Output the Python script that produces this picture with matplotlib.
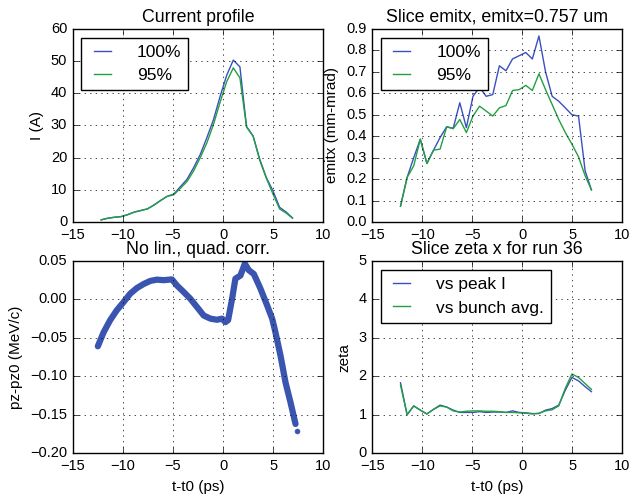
import numpy as np
import matplotlib
matplotlib.use("Agg")
import matplotlib.pyplot as plt

# ============ data ============

t = [-12.17, -11.51, -10.85, -10.19, -9.53, -8.87, -8.21, -7.55, -6.90, -6.24,
     -5.58, -4.92, -4.26, -3.60, -2.94, -2.28, -1.62, -0.96, -0.30, 0.36,
     1.02, 1.68, 2.34, 3.00, 3.66, 4.32, 4.98, 5.64, 6.30, 6.93]

cur_100 = [0.7, 1.2, 1.5, 1.7, 2.3, 3.1, 3.6, 4.1, 5.3, 6.7,
           8.0, 8.7, 11.0, 13.3, 16.9, 21.0, 26.2, 31.8, 39.0, 45.6,
           50.3, 48.2, 29.7, 26.7, 19.5, 13.8, 9.7, 4.6, 3.1, 1.3]
cur_95 = [0.7, 1.2, 1.5, 1.7, 2.3, 3.1, 3.6, 4.1, 5.3, 6.7,
          8.0, 8.5, 10.5, 12.6, 15.9, 20.0, 24.6, 30.3, 37.2, 43.6,
          47.9, 44.8, 29.5, 26.7, 19.2, 13.6, 8.7, 4.1, 2.8, 1.2]

emit_100 = [0.074, 0.208, 0.300, 0.386, 0.273, 0.335, 0.394, 0.444, 0.437, 0.556,
            0.440, 0.586, 0.628, 0.586, 0.594, 0.728, 0.705, 0.760, 0.775, 0.790,
            0.760, 0.867, 0.700, 0.586, 0.563, 0.532, 0.500, 0.494, 0.239, 0.150]
emit_95 = [0.074, 0.208, 0.262, 0.386, 0.273, 0.335, 0.340, 0.444, 0.435, 0.478,
           0.417, 0.494, 0.540, 0.517, 0.494, 0.532, 0.543, 0.613, 0.617, 0.637,
           0.613, 0.691, 0.617, 0.548, 0.478, 0.417, 0.363, 0.304, 0.216, 0.150]

zeta_peak = [1.83, 1.00, 1.23, 1.12, 1.02, 1.14, 1.25, 1.20, 1.12, 1.06,
             1.06, 1.06, 1.08, 1.06, 1.07, 1.07, 1.06, 1.10, 1.06, 1.05,
             1.03, 1.03, 1.12, 1.16, 1.25, 1.64, 1.97, 1.88, 1.73, 1.60]
zeta_avg = [1.77, 1.00, 1.23, 1.12, 1.02, 1.14, 1.23, 1.20, 1.10, 1.07,
            1.09, 1.10, 1.10, 1.09, 1.09, 1.08, 1.06, 1.06, 1.05, 1.04,
            1.02, 1.04, 1.10, 1.13, 1.23, 1.69, 2.06, 1.97, 1.81, 1.66]

# longitudinal phase space, centre of the particle band
ps_t = [-12.5, -11.93, -11.27, -10.6, -9.93, -9.27, -8.6, -7.93, -7.27, -6.6,
        -5.93, -5.1, -4.6, -3.93, -3.27, -2.6, -1.93, -1.27, -0.6, -0.1,
        0.23, 0.5, 0.9, 1.23, 1.73, 2.17, 2.57, 3.07, 3.73, 4.4,
        4.9, 5.23, 5.73, 6.23, 6.73, 7.23]
ps_pz = [-0.061, -0.043, -0.027, -0.014, -0.0035, 0.0074, 0.0148, 0.020, 0.024, 0.0257,
         0.025, 0.026, 0.018, 0.0096, 0.0009, -0.010, -0.021, -0.025, -0.0265, -0.025,
         -0.0296, -0.027, 0.0009, 0.027, 0.031, 0.0465, 0.038, 0.033, 0.014, -0.008,
         -0.025, -0.043, -0.073, -0.108, -0.134, -0.162]
stray_t = [7.33]
stray_pz = [-0.171]

# ===================== plotting =====================

plt.style.use('classic')
plt.rcParams['font.family'] = ['Liberation Sans', 'DejaVu Sans']
plt.rcParams['font.size'] = 10.5
plt.rcParams['axes.titlesize'] = 12.8
plt.rcParams['axes.labelsize'] = 11
plt.rcParams['legend.fontsize'] = 12.5
plt.rcParams['legend.handletextpad'] = 1.2
plt.rcParams['legend.handlelength'] = 1.6

c_blue = '#3a4fc0'
c_green = '#22a040'
c_dots = '#3a55b0'

fig = plt.figure(figsize=(6.44, 4.98), dpi=100, facecolor='white')
ax1 = fig.add_axes([0.113, 0.554, 0.389, 0.388])
ax2 = fig.add_axes([0.578, 0.554, 0.388, 0.388])
ax3 = fig.add_axes([0.113, 0.090, 0.389, 0.386])
ax4 = fig.add_axes([0.578, 0.090, 0.388, 0.386])

ax1.plot(t, cur_100, color=c_blue, label='100%')
ax1.plot(t, cur_95, color=c_green, label='95%')
ax1.set_title('Current profile')
ax1.set_ylabel('I (A)')
ax1.set_xlim(-15, 10)
ax1.set_ylim(0, 60)
ax1.legend(loc='upper left')

ax2.plot(t, emit_100, color=c_blue, label='100%')
ax2.plot(t, emit_95, color=c_green, label='95%')
ax2.set_title('Slice emitx, emitx=0.757 um')
ax2.set_ylabel('emitx (mm-mrad)')
ax2.set_xlim(-15, 10)
ax2.set_ylim(0, 0.9)
ax2.legend(loc='upper left')

ax3.plot(ps_t, ps_pz, color=c_dots, lw=4.5, solid_capstyle='round')
ax3.plot(stray_t, stray_pz, 'o', color=c_dots, ms=3.5, mec=c_dots)
ax3.set_title('No lin., quad. corr.')
ax3.set_ylabel('pz-pz0 (MeV/c)')
ax3.set_xlabel('t-t0 (ps)')
ax3.set_xlim(-15, 10)
ax3.set_ylim(-0.20, 0.05)

ax4.plot(t, zeta_peak, color=c_blue, label='vs peak I')
ax4.plot(t, zeta_avg, color=c_green, label='vs bunch avg.')
ax4.set_title('Slice zeta x for run 36')
ax4.set_ylabel('zeta')
ax4.set_xlabel('t-t0 (ps)')
ax4.set_xlim(-15, 10)
ax4.set_ylim(0, 5)
ax4.legend(loc='upper left')

for ax in (ax1, ax2, ax3, ax4):
    ax.grid(True)

fig.savefig('out.png', dpi=100, facecolor='white')
